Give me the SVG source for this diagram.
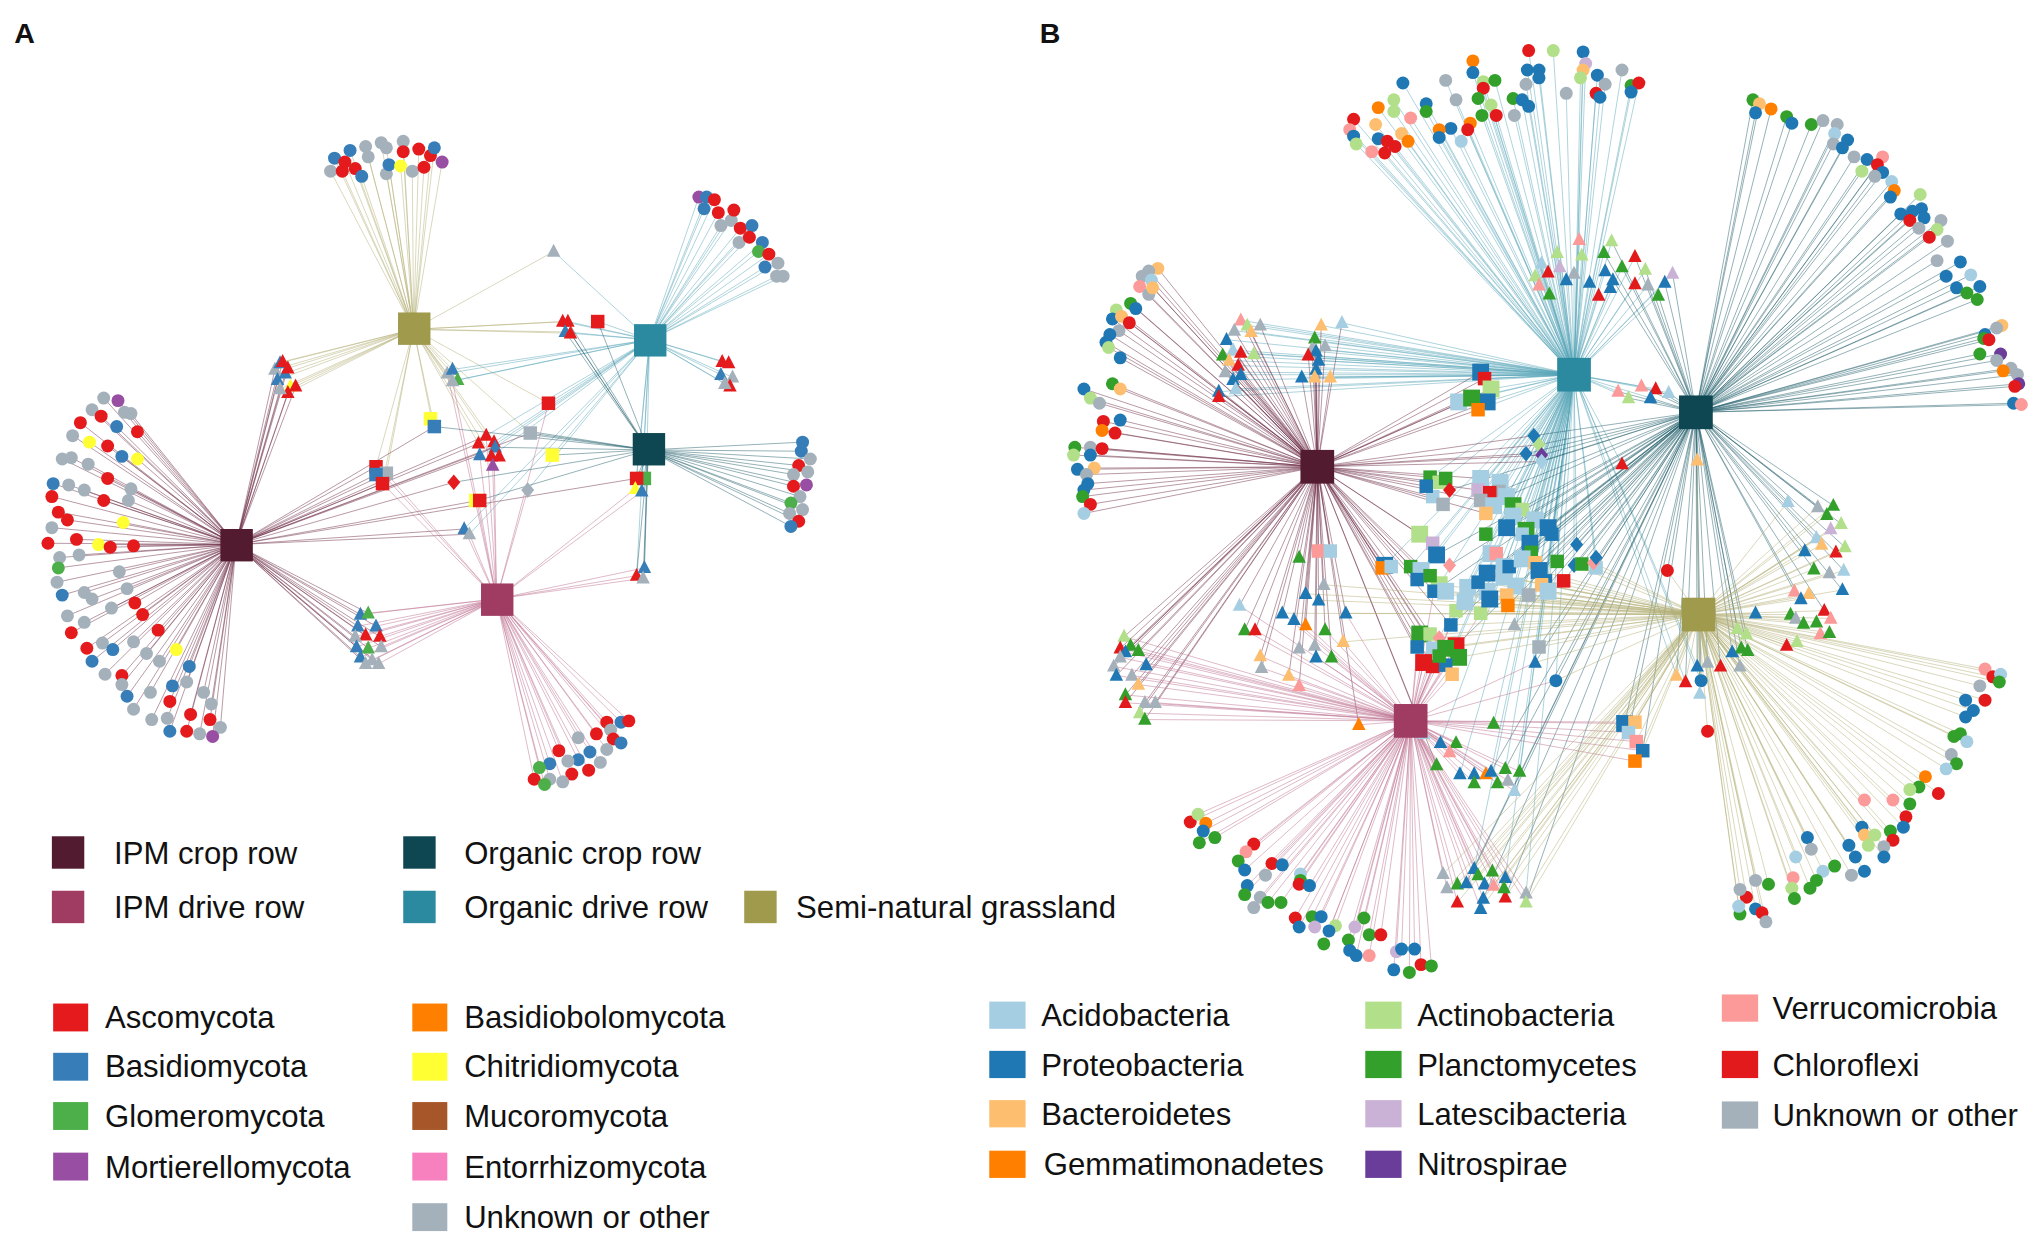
<svg xmlns="http://www.w3.org/2000/svg" width="2033" height="1237" viewBox="0 0 2033 1237">
<style>
text{font-family:"Liberation Sans",Arial,sans-serif;font-size:24px;fill:#111}
.lbl{font-size:22px;font-weight:bold}
.e{fill:none;stroke-width:.5;stroke-opacity:.75}
.eGR{stroke:#b3ae74}.eOD{stroke:#5aa6b9}.eOC{stroke:#235f6b}.eIC{stroke:#6e2d47}.eID{stroke:#bd6f8f}
circle{r:5px}
.r{fill:#e41a1c}.b{fill:#377eb8}.G{fill:#4daf4a}.p{fill:#984ea3}.y{fill:#ffff33}.g{fill:#a4b1bb}
.R{fill:#e31a1c}.B{fill:#1f78b4}.P{fill:#33a02c}.L{fill:#b2df8a}.A{fill:#a6cee3}.T{fill:#fdbf6f}.O{fill:#ff7f00}.V{fill:#fb9a99}.X{fill:#cab2d6}.N{fill:#6a3d9a}
</style>
<defs>
<path id="t" d="M0-6 5.2 4H-5.2Z"/>
<rect id="s" x="-5.2" y="-5.2" width="10.4" height="10.4"/>
<rect id="S" x="-6.5" y="-6.5" width="13" height="13"/>
<path id="d" d="M0-6 5 0 0 6-5 0Z"/>
</defs>
<rect width="2033" height="1237" fill="#fff"/>
<g transform="scale(1.29656)">
<text class="lbl" x="11" y="33">A</text>
<text class="lbl" x="802" y="33">B</text>

<g id="connectors">
<path class="e eGR" d="M319 254 255 132M319 254 258 122M319 254 264 132M319 254 266 125M319 254 270 116M319 254 274 130M319 254 279 136M319 254 282 113M319 254 284 121M319 254 294 110M319 254 298 114M319 254 298 134M319 254 300 127M319 254 309 128M319 254 311 109M319 254 311 117M319 254 318 132M319 254 323 115M319 254 327 129M319 254 332 120M319 254 335 114M319 254 341 125M319 254 212 285M319 254 216 280M319 254 218 279M319 254 220 288M319 254 222 284M319 254 214 293M319 254 224 298M319 254 228 298M319 254 222 303M319 254 216 300M319 254 434 248M319 254 438 248M319 254 436 256M319 254 440 257M319 254 427 194M319 254 345 288M319 254 349 285M319 254 353 293M319 254 349 294M319 254 290 360M319 254 295 373M319 254 298 365M319 254 333 324M319 254 375 336M319 254 381 341M319 254 379 352M319 254 369 342M319 254 423 311M319 254 409 334M319 254 335 329"/>
<path class="e eOD" d="M501 262 539 152M501 262 545 152M501 262 543 161M501 262 551 154M501 262 554 164M501 262 556 174M501 262 564 170M501 262 566 162M501 262 571 176M501 262 580 174M501 262 570 187M501 262 578 183M501 262 588 187M501 262 585 194M501 262 593 196M501 262 600 203M501 262 590 206M501 262 599 213M501 262 604 213M501 262 557 279M501 262 562 280M501 262 556 289M501 262 565 291M501 262 563 298M501 262 559 296M501 262 427 194M501 262 461 248M501 262 345 288M501 262 349 285M501 262 353 293M501 262 349 294M501 262 434 248M501 262 438 248M501 262 436 256M501 262 440 257M501 262 423 311M501 262 375 336M501 262 381 341M501 262 370 351M501 262 382 345M501 262 379 352M501 262 407 378M501 262 426 351M501 262 358 408M501 262 362 412M501 262 491 369M501 262 490 377M501 262 495 379M501 262 491 444M501 262 497 438"/>
<path class="e eOC" d="M500 347 619 341M500 347 618 348M500 347 625 354M500 347 616 359M500 347 623 364M500 347 612 366M500 347 612 375M500 347 622 374M500 347 617 383M500 347 610 388M500 347 619 393M500 347 609 396M500 347 616 402M500 347 610 406M500 347 434 248M500 347 438 248M500 347 436 256M500 347 440 257M500 347 461 248M500 347 409 334M500 347 408 335M500 347 410 333M500 347 335 329M500 347 350 372M500 347 369 386M500 347 491 369M500 347 490 377M500 347 495 379M500 347 491 444M500 347 497 438M500 347 496 446M500 347 382 345M500 347 426 351"/>
<path class="e eIC" d="M182 420 80 307M182 420 91 309M182 420 71 316M182 420 96 318M182 420 101 319M182 420 78 321M182 420 62 326M182 420 90 329M182 420 106 333M182 420 56 336M182 420 69 341M182 420 83 344M182 420 94 352M182 420 106 354M182 420 48 354M182 420 55 353M182 420 68 358M182 420 83 369M182 420 41 373M182 420 53 374M182 420 65 378M182 420 101 377M182 420 40 383M182 420 80 386M182 420 99 386M182 420 45 395M182 420 52 401M182 420 95 403M182 420 40 407M182 420 37 419M182 420 59 416M182 420 76 420M182 420 85 422M182 420 103 421M182 420 46 430M182 420 61 428M182 420 45 438M182 420 92 441M182 420 44 449M182 420 48 459M182 420 65 457M182 420 71 462M182 420 98 454M182 420 104 465M182 420 110 474M182 420 86 469M182 420 52 475M182 420 65 480M182 420 55 488M182 420 122 486M182 420 79 496M182 420 67 500M182 420 87 501M182 420 103 495M182 420 136 501M182 420 71 510M182 420 113 504M182 420 123 510M182 420 146 514M182 420 81 520M182 420 94 521M182 420 94 528M182 420 133 529M182 420 144 526M182 420 98 537M182 420 116 534M182 420 157 534M182 420 103 547M182 420 131 541M182 420 163 543M182 420 117 555M182 420 129 554M182 420 147 551M182 420 162 555M182 420 170 561M182 420 131 564M182 420 144 564M182 420 154 566M182 420 164 568M182 420 278 474M182 420 284 473M182 420 276 483M182 420 290 483M182 420 282 490M182 420 293 491M182 420 274 491M182 420 275 499M182 420 284 500M182 420 294 499M182 420 278 507M182 420 287 509M182 420 282 512M182 420 292 512M182 420 212 285M182 420 216 280M182 420 218 279M182 420 220 288M182 420 222 284M182 420 214 293M182 420 224 298M182 420 228 298M182 420 222 303M182 420 216 300M182 420 290 360M182 420 290 366M182 420 298 365M182 420 295 373M182 420 375 336M182 420 369 342M182 420 370 351M182 420 382 345M182 420 350 372M182 420 369 386M182 420 358 408M182 420 362 412M182 420 335 329M182 420 409 334M182 420 491 369"/>
<path class="e eID" d="M383 462 468 557M383 462 479 557M383 462 485 556M383 462 471 563M383 462 460 566M383 462 473 570M383 462 446 569M383 462 479 573M383 462 468 578M383 462 455 580M383 462 431 579M383 462 446 586M383 462 438 587M383 462 463 588M383 462 424 589M383 462 416 592M383 462 454 594M383 462 441 597M383 462 434 603M383 462 424 601M383 462 412 601M383 462 420 605M383 462 278 474M383 462 284 473M383 462 276 483M383 462 290 483M383 462 282 490M383 462 293 491M383 462 274 491M383 462 275 499M383 462 284 500M383 462 294 499M383 462 278 507M383 462 287 509M383 462 282 512M383 462 292 512M383 462 290 360M383 462 295 373M383 462 298 365M383 462 375 336M383 462 381 341M383 462 380 359M383 462 370 351M383 462 423 311M383 462 407 378M383 462 369 386M383 462 491 444M383 462 497 438M383 462 496 446M383 462 490 377M383 462 495 379M383 462 345 288M383 462 349 294M383 462 358 408M383 462 362 412"/>

<path class="e eOD" d="M1214 289 1179 39M1214 289 1198 39M1214 289 1221 40M1214 289 1136 47M1214 289 1223 49M1214 289 1136 56M1214 289 1178 54M1214 289 1187 54M1214 289 1221 54M1214 289 1251 54M1214 289 1082 64M1214 289 1115 62M1214 289 1144 63M1214 289 1153 62M1214 289 1177 65M1214 289 1187 60M1214 289 1219 60M1214 289 1232 58M1214 289 1238 65M1214 289 1258 66M1214 289 1264 64M1214 289 1144 68M1214 289 1208 72M1214 289 1231 72M1214 289 1234 75M1214 289 1258 71M1214 289 1075 77M1214 289 1063 83M1214 289 1075 86M1214 289 1100 80M1214 289 1123 77M1214 289 1140 76M1214 289 1150 81M1214 289 1167 76M1214 289 1174 77M1214 289 1179 82M1214 289 1100 86M1214 289 1143 89M1214 289 1154 89M1214 289 1168 89M1214 289 1044 92M1214 289 1088 91M1214 289 1061 96M1214 289 1041 100M1214 289 1134 95M1214 289 1119 99M1214 289 1110 100M1214 289 1132 100M1214 289 1044 105M1214 289 1081 103M1214 289 1063 107M1214 289 1046 111M1214 289 1070 109M1214 289 1076 113M1214 289 1086 109M1214 289 1058 117M1214 289 1068 118M1214 289 1110 106M1214 289 1127 109M1214 289 957 247M1214 289 952 255M1214 289 962 251M1214 289 972 251M1214 289 965 256M1214 289 946 262M1214 289 951 270M1214 289 943 274M1214 289 957 272M1214 289 967 273M1214 289 948 278M1214 289 955 282M1214 289 945 287M1214 289 957 289M1214 289 951 293M1214 289 940 302M1214 289 953 300M1214 289 940 306M1214 289 1019 251M1214 289 1035 249M1214 289 1014 261M1214 289 1012 269M1214 289 1022 267M1214 289 1015 271M1214 289 1009 274M1214 289 1017 278M1214 289 1015 285M1214 289 1004 291M1214 289 1014 291M1214 289 1026 291M1214 289 1218 185M1214 289 1243 186M1214 289 1201 195M1214 289 1220 197M1214 289 1237 195M1214 289 1261 198M1214 289 1189 203M1214 289 1203 206M1214 289 1251 206M1214 289 1269 208M1214 289 1194 210M1214 289 1214 211M1214 289 1238 209M1214 289 1290 211M1214 289 1184 213M1214 289 1208 216M1214 289 1226 218M1214 289 1244 216M1214 289 1261 219M1214 289 1271 220M1214 289 1284 218M1214 289 1187 220M1214 289 1195 227M1214 289 1233 228M1214 289 1242 222M1214 289 1279 228M1214 289 1248 302M1214 289 1266 298M1214 289 1277 300M1214 289 1287 303M1214 289 1256 307M1214 289 1273 307M1214 289 1142 287M1214 289 1145 292M1214 289 1135 307M1214 289 1125 310M1214 289 1147 310M1214 289 1150 300M1214 289 1140 316M1214 289 1183 336M1214 289 1187 343M1214 289 1177 350M1214 289 1189 351M1214 289 1189 356M1214 289 1103 368M1214 289 1115 369M1214 289 1142 369M1214 289 1157 372M1214 289 1140 378M1214 289 1149 380M1214 289 1162 383M1214 289 1152 390M1214 289 1167 390M1214 289 1174 393M1214 289 1184 401M1214 289 1194 407M1214 289 1197 412M1214 289 1177 409M1214 289 1146 412M1214 289 1174 412M1214 289 1180 419M1214 289 1181 426M1214 289 1174 431M1214 289 1187 440M1214 289 1192 448M1214 289 1194 456M1214 289 1201 433M1214 289 1216 420M1214 289 1214 436M1214 289 1231 430M1214 289 1231 438M1214 289 1150 427M1214 289 1160 437M1214 289 1164 437M1214 289 1169 452M1214 289 1162 459M1214 289 1179 459M1214 289 1110 451M1214 289 1123 471M1214 289 1142 473M1214 289 1119 482M1214 289 1110 492M1214 289 1123 498M1214 289 1115 513M1214 289 1093 447M1214 289 1096 440M1214 289 1068 436M1214 289 1088 437M1214 289 1105 419M1214 289 1152 558M1214 289 1111 573M1214 289 1126 597M1214 289 1150 595M1214 289 1161 593M1214 289 1172 595M1214 289 1168 610M1214 289 1137 670M1214 289 1161 677M1214 289 1177 689M1214 289 1200 525M1214 289 1168 482M1214 289 1187 499M1214 289 1184 511M1214 289 1251 358M1214 289 1309 514M1214 289 1312 525M1214 289 1300 526M1214 289 1293 521"/>
<path class="e eOC" d="M1308 318 1352 77M1308 318 1357 80M1308 318 1354 87M1308 318 1366 84M1308 318 1378 90M1308 318 1382 95M1308 318 1397 96M1308 318 1406 93M1308 318 1417 96M1308 318 1415 103M1308 318 1425 108M1308 318 1414 111M1308 318 1421 114M1308 318 1430 121M1308 318 1440 123M1308 318 1452 121M1308 318 1448 127M1308 318 1436 132M1308 318 1452 133M1308 318 1446 136M1308 318 1459 140M1308 318 1461 147M1308 318 1458 152M1308 318 1481 150M1308 318 1466 165M1308 318 1475 163M1308 318 1482 161M1308 318 1473 170M1308 318 1484 168M1308 318 1497 170M1308 318 1480 176M1308 318 1494 177M1308 318 1488 183M1308 318 1502 186M1308 318 1494 201M1308 318 1512 202M1308 318 1501 213M1308 318 1520 212M1308 318 1509 222M1308 318 1517 226M1308 318 1527 221M1308 318 1525 231M1308 318 1544 251M1308 318 1540 253M1308 318 1531 258M1308 318 1530 261M1308 318 1534 262M1308 318 1527 273M1308 318 1543 273M1308 318 1540 278M1308 318 1551 284M1308 318 1545 286M1308 318 1556 289M1308 318 1557 296M1308 318 1554 298M1308 318 1553 311M1308 318 1559 312M1308 318 1261 198M1308 318 1269 208M1308 318 1290 211M1308 318 1284 218M1308 318 1271 220M1308 318 1279 228M1308 318 1251 206M1308 318 1244 216M1308 318 1237 195M1308 318 1243 186M1308 318 1248 302M1308 318 1266 298M1308 318 1277 300M1308 318 1287 303M1308 318 1256 307M1308 318 1273 307M1308 318 1183 336M1308 318 1187 343M1308 318 1177 350M1308 318 1189 351M1308 318 1189 356M1308 318 1118 378M1308 318 1156 379M1308 318 1162 383M1308 318 1167 398M1308 318 1162 407M1308 318 1184 401M1308 318 1194 407M1308 318 1197 412M1308 318 1177 409M1308 318 1180 419M1308 318 1184 434M1308 318 1187 440M1308 318 1189 451M1308 318 1206 448M1308 318 1201 433M1308 318 1216 420M1308 318 1214 436M1308 318 1220 435M1308 318 1229 434M1308 318 1231 438M1308 318 1174 431M1308 318 1164 437M1308 318 1147 442M1308 318 1169 452M1308 318 1163 467M1308 318 1130 464M1308 318 1140 449M1308 318 1108 428M1308 318 1118 436M1308 318 1106 456M1308 318 1119 482M1308 318 1123 498M1308 318 1379 387M1308 318 1402 391M1308 318 1414 390M1308 318 1409 397M1308 318 1420 404M1308 318 1401 415M1308 318 1392 425M1308 318 1416 426M1308 318 1423 422M1308 318 1399 439M1308 318 1422 440M1308 318 1389 462M1308 318 1421 455M1308 318 1384 456M1308 318 1407 471M1308 318 1340 485M1308 318 1347 489M1308 318 1343 500M1308 318 1336 503M1308 318 1348 502M1308 318 1317 511M1308 318 1309 514M1308 318 1327 514M1308 318 1342 514M1308 318 1293 521M1308 318 1300 526M1308 318 1312 525M1308 318 1311 535M1308 318 1253 558M1308 318 1256 565M1308 318 1267 579M1308 318 1137 670M1308 318 1144 693M1308 318 1161 692M1308 318 1177 696M1308 318 1131 681M1308 318 1251 358M1308 318 1309 355M1308 318 1286 440M1308 318 1200 525M1308 318 1168 482M1308 318 1187 499M1308 318 1184 511M1308 318 1150 595M1308 318 1168 610M1308 318 1161 593"/>
<path class="e eIC" d="M1016 360 893 207M1016 360 886 209M1016 360 881 213M1016 360 888 216M1016 360 879 221M1016 360 886 227M1016 360 889 222M1016 360 872 234M1016 360 876 238M1016 360 861 239M1016 360 858 246M1016 360 865 244M1016 360 871 249M1016 360 863 255M1016 360 856 258M1016 360 853 264M1016 360 855 268M1016 360 864 276M1016 360 836 300M1016 360 858 296M1016 360 864 300M1016 360 841 307M1016 360 848 311M1016 360 851 325M1016 360 864 324M1016 360 850 332M1016 360 860 334M1016 360 829 345M1016 360 841 345M1016 360 850 346M1016 360 828 351M1016 360 841 351M1016 360 831 362M1016 360 844 361M1016 360 838 366M1016 360 839 373M1016 360 836 378M1016 360 835 383M1016 360 841 389M1016 360 836 396M1016 360 957 247M1016 360 952 255M1016 360 962 251M1016 360 972 251M1016 360 965 256M1016 360 946 262M1016 360 951 270M1016 360 943 274M1016 360 957 272M1016 360 967 273M1016 360 948 278M1016 360 955 282M1016 360 945 287M1016 360 957 289M1016 360 951 293M1016 360 940 302M1016 360 953 300M1016 360 940 306M1016 360 1019 251M1016 360 1035 249M1016 360 1014 261M1016 360 1012 269M1016 360 1022 267M1016 360 1015 271M1016 360 1009 274M1016 360 1017 278M1016 360 1015 285M1016 360 1004 291M1016 360 1014 291M1016 360 1026 291M1016 360 1142 287M1016 360 1145 292M1016 360 1135 307M1016 360 1125 310M1016 360 1147 310M1016 360 1150 300M1016 360 1140 316M1016 360 1183 336M1016 360 1187 343M1016 360 1177 350M1016 360 1189 351M1016 360 1189 356M1016 360 1103 368M1016 360 1110 372M1016 360 1100 375M1016 360 1105 383M1016 360 1113 389M1016 360 1142 369M1016 360 1140 378M1016 360 1142 386M1016 360 1146 396M1016 360 1095 412M1016 360 1105 419M1016 360 1068 436M1016 360 1066 438M1016 360 1073 437M1016 360 1088 437M1016 360 1096 440M1016 360 1093 447M1016 360 1103 444M1016 360 1106 456M1016 360 1119 482M1016 360 1095 489M1016 360 1103 489M1016 360 1093 499M1016 360 1098 511M1016 360 1105 514M1016 360 1120 520M1016 360 1110 506M1016 360 1002 430M1016 360 1017 425M1016 360 1026 425M1016 360 1007 458M1016 360 1021 451M1016 360 1017 463M1016 360 1038 473M1016 360 956 467M1016 360 989 473M1016 360 998 478M1016 360 960 486M1016 360 968 486M1016 360 1007 482M1016 360 1022 486M1016 360 1014 498M1016 360 1036 495M1016 360 1015 507M1016 360 1027 507M1016 360 1002 500M1016 360 972 506M1016 360 973 515M1016 360 994 521M1016 360 1002 529M1016 360 867 491M1016 360 864 500M1016 360 872 498M1016 360 868 503M1016 360 864 507M1016 360 878 502M1016 360 884 513M1016 360 859 514M1016 360 861 521M1016 360 873 521M1016 360 878 528M1016 360 868 536M1016 360 868 542M1016 360 883 542M1016 360 891 542M1016 360 879 550M1016 360 883 555M1016 360 1048 559M1016 360 1098 566M1016 360 1108 590"/>
<path class="e eID" d="M1088 556 918 634M1088 556 924 628M1088 556 930 635M1088 556 928 641M1088 556 925 650M1088 556 937 646M1088 556 967 651M1088 556 961 657M1088 556 955 664M1088 556 960 671M1088 556 981 666M1088 556 989 667M1088 556 976 675M1088 556 1003 674M1088 556 1002 682M1088 556 1003 679M1088 556 1010 683M1088 556 962 683M1088 556 960 690M1088 556 972 692M1088 556 978 696M1088 556 988 696M1088 556 967 700M1088 556 999 708M1088 556 1012 707M1088 556 1019 707M1088 556 1002 715M1088 556 1014 715M1088 556 1030 714M1088 556 1025 718M1088 556 1021 728M1088 556 1040 725M1088 556 1052 708M1088 556 1045 715M1088 556 1056 721M1088 556 1065 721M1088 556 1041 733M1088 556 1046 737M1088 556 1056 737M1088 556 1077 734M1088 556 1081 732M1088 556 1091 732M1088 556 1087 750M1088 556 1075 748M1088 556 1096 744M1088 556 1104 745M1088 556 1113 674M1088 556 1124 682M1088 556 1131 681M1088 556 1137 670M1088 556 1140 675M1088 556 1151 672M1088 556 1161 677M1088 556 1145 682M1088 556 1116 685M1088 556 1124 696M1088 556 1144 693M1088 556 1161 692M1088 556 1142 701M1088 556 1152 683M1088 556 1177 689M1088 556 1177 696M1088 556 1160 685M1088 556 867 491M1088 556 864 500M1088 556 872 498M1088 556 868 503M1088 556 864 507M1088 556 878 502M1088 556 884 513M1088 556 859 514M1088 556 861 521M1088 556 873 521M1088 556 878 528M1088 556 868 536M1088 556 868 542M1088 556 883 542M1088 556 891 542M1088 556 879 550M1088 556 883 555M1088 556 956 467M1088 556 989 473M1088 556 998 478M1088 556 960 486M1088 556 968 486M1088 556 1007 482M1088 556 1022 486M1088 556 1014 498M1088 556 1036 495M1088 556 1015 507M1088 556 1027 507M1088 556 972 506M1088 556 973 515M1088 556 994 521M1088 556 1002 529M1088 556 1038 473M1088 556 1119 482M1088 556 1095 489M1088 556 1103 489M1088 556 1110 492M1088 556 1123 498M1088 556 1105 500M1088 556 1115 500M1088 556 1093 499M1088 556 1125 507M1088 556 1098 511M1088 556 1105 514M1088 556 1115 513M1088 556 1120 520M1088 556 1110 506M1088 556 1123 471M1088 556 1142 473M1088 556 1106 456M1088 556 1253 558M1088 556 1256 565M1088 556 1262 572M1088 556 1267 579M1088 556 1261 587M1088 556 1261 557M1088 556 1048 559M1088 556 1152 558M1088 556 1098 566M1088 556 1111 573M1088 556 1123 573M1088 556 1118 580M1088 556 1108 590M1088 556 1126 597M1088 556 1137 597M1088 556 1137 604M1088 556 1146 597M1088 556 1150 595M1088 556 1161 593M1088 556 1172 595M1088 556 1155 604M1088 556 1168 610M1088 556 1163 602M1088 556 1184 511M1088 556 1200 525"/>
<path class="e eGR" d="M1310 474 1531 516M1310 474 1537 522M1310 474 1543 520M1310 474 1542 526M1310 474 1527 529M1310 474 1516 540M1310 474 1531 540M1310 474 1522 548M1310 474 1516 553M1310 474 1512 566M1310 474 1507 568M1310 474 1517 572M1310 474 1505 582M1310 474 1509 589M1310 474 1501 593M1310 474 1485 599M1310 474 1480 607M1310 474 1473 609M1310 474 1495 612M1310 474 1438 617M1310 474 1460 617M1310 474 1473 620M1310 474 1470 630M1310 474 1468 638M1310 474 1458 641M1310 474 1460 648M1310 474 1436 638M1310 474 1438 644M1310 474 1446 644M1310 474 1426 652M1310 474 1441 652M1310 474 1453 653M1310 474 1431 661M1310 474 1453 661M1310 474 1406 672M1310 474 1415 668M1310 474 1438 672M1310 474 1428 675M1310 474 1394 646M1310 474 1385 661M1310 474 1397 655M1310 474 1383 677M1310 474 1382 685M1310 474 1396 685M1310 474 1401 679M1310 474 1384 693M1310 474 1364 682M1310 474 1354 679M1310 474 1347 692M1310 474 1342 686M1310 474 1342 705M1310 474 1354 701M1310 474 1359 704M1310 474 1362 711M1310 474 1341 699M1310 474 1379 387M1310 474 1402 391M1310 474 1414 390M1310 474 1409 397M1310 474 1420 404M1310 474 1412 408M1310 474 1401 415M1310 474 1405 420M1310 474 1392 425M1310 474 1416 426M1310 474 1423 422M1310 474 1399 439M1310 474 1422 440M1310 474 1411 442M1310 474 1384 456M1310 474 1395 458M1310 474 1389 462M1310 474 1421 455M1310 474 1381 474M1310 474 1385 477M1310 474 1407 471M1310 474 1412 477M1310 474 1354 473M1310 474 1391 481M1310 474 1401 480M1310 474 1386 495M1310 474 1378 498M1310 474 1404 489M1310 474 1411 488M1310 474 1340 485M1310 474 1347 489M1310 474 1343 500M1310 474 1336 503M1310 474 1348 502M1310 474 1317 511M1310 474 1309 514M1310 474 1327 514M1310 474 1342 514M1310 474 1293 521M1310 474 1300 526M1310 474 1312 525M1310 474 1311 535M1310 474 1113 674M1310 474 1124 682M1310 474 1131 681M1310 474 1137 670M1310 474 1140 675M1310 474 1151 672M1310 474 1161 677M1310 474 1145 682M1310 474 1116 685M1310 474 1124 696M1310 474 1144 693M1310 474 1161 692M1310 474 1142 701M1310 474 1152 683M1310 474 1177 689M1310 474 1177 696M1310 474 1160 685M1310 474 1253 558M1310 474 1256 565M1310 474 1262 572M1310 474 1267 579M1310 474 1261 587M1310 474 1261 557M1310 474 1142 473M1310 474 1123 471M1310 474 1130 464M1310 474 1149 462M1310 474 1162 459M1310 474 1163 467M1310 474 1179 459M1310 474 1194 456M1310 474 1189 451M1310 474 1192 448M1310 474 1206 448M1310 474 1169 452M1310 474 1160 445M1310 474 1147 442M1310 474 1187 440M1310 474 1231 438M1310 474 1214 436M1310 474 1229 434M1310 474 1110 451M1310 474 1106 456M1310 474 1115 456M1310 474 1132 453M1310 474 1140 449M1310 474 1119 482M1310 474 1123 498M1310 474 1125 507M1310 474 1115 500M1310 474 1110 492M1310 474 1038 473M1310 474 1021 451M1310 474 1007 458M1310 474 1017 463M1310 474 1036 495M1310 474 989 473M1310 474 1286 440M1310 474 1317 564M1310 474 1309 355M1310 474 1200 525M1310 474 1168 482M1310 474 1187 499M1310 474 1184 511"/>
</g>

<g id="a-leaves-top">
<circle cx="255" cy="132" class="g"/><circle cx="258" cy="122" class="b"/><circle cx="264" cy="132" class="r"/><circle cx="266" cy="125" class="r"/><circle cx="270" cy="116" class="b"/><circle cx="274" cy="130" class="r"/><circle cx="279" cy="136" class="b"/><circle cx="282" cy="113" class="g"/><circle cx="284" cy="121" class="g"/><circle cx="294" cy="110" class="g"/><circle cx="298" cy="114" class="g"/><circle cx="298" cy="134" class="g"/><circle cx="300" cy="127" class="b"/><circle cx="309" cy="128" class="y"/><circle cx="311" cy="109" class="g"/><circle cx="311" cy="117" class="r"/><circle cx="318" cy="132" class="g"/><circle cx="323" cy="115" class="r"/><circle cx="327" cy="129" class="r"/><circle cx="332" cy="120" class="r"/><circle cx="335" cy="114" class="b"/><circle cx="341" cy="125" class="p"/>
</g>
<g id="a-leaves-topright">
<circle cx="539" cy="152" class="p"/><circle cx="545" cy="152" class="b"/><circle cx="543" cy="161" class="b"/><circle cx="551" cy="154" class="r"/><circle cx="554" cy="164" class="r"/><circle cx="556" cy="174" class="g"/><circle cx="564" cy="170" class="g"/><circle cx="566" cy="162" class="r"/><circle cx="571" cy="176" class="r"/><circle cx="580" cy="174" class="b"/><circle cx="570" cy="187" class="g"/><circle cx="578" cy="183" class="r"/><circle cx="588" cy="187" class="b"/><circle cx="585" cy="194" class="G"/><circle cx="593" cy="196" class="r"/><circle cx="600" cy="203" class="g"/><circle cx="590" cy="206" class="b"/><circle cx="599" cy="213" class="g"/><circle cx="604" cy="213" class="g"/>
</g>
<g id="a-leaves-left">
<circle cx="80" cy="307" class="g"/><circle cx="91" cy="309" class="p"/><circle cx="71" cy="316" class="g"/><circle cx="96" cy="318" class="g"/><circle cx="101" cy="319" class="g"/><circle cx="78" cy="321" class="r"/><circle cx="62" cy="326" class="r"/><circle cx="90" cy="329" class="b"/><circle cx="106" cy="333" class="r"/><circle cx="56" cy="336" class="g"/><circle cx="69" cy="341" class="y"/><circle cx="83" cy="344" class="r"/><circle cx="94" cy="352" class="b"/><circle cx="106" cy="354" class="y"/><circle cx="48" cy="354" class="g"/><circle cx="55" cy="353" class="g"/><circle cx="68" cy="358" class="g"/><circle cx="83" cy="369" class="r"/><circle cx="41" cy="373" class="b"/><circle cx="53" cy="374" class="g"/><circle cx="65" cy="378" class="g"/><circle cx="101" cy="377" class="g"/><circle cx="40" cy="383" class="r"/><circle cx="80" cy="386" class="r"/><circle cx="99" cy="386" class="g"/><circle cx="45" cy="395" class="r"/><circle cx="52" cy="401" class="r"/><circle cx="95" cy="403" class="y"/><circle cx="40" cy="407" class="g"/><circle cx="37" cy="419" class="r"/><circle cx="59" cy="416" class="r"/><circle cx="76" cy="420" class="y"/><circle cx="85" cy="422" class="r"/><circle cx="103" cy="421" class="r"/><circle cx="46" cy="430" class="g"/><circle cx="61" cy="428" class="g"/><circle cx="45" cy="438" class="G"/><circle cx="92" cy="441" class="g"/><circle cx="44" cy="449" class="g"/><circle cx="48" cy="459" class="b"/><circle cx="65" cy="457" class="g"/><circle cx="71" cy="462" class="g"/><circle cx="98" cy="454" class="g"/><circle cx="104" cy="465" class="r"/><circle cx="110" cy="474" class="r"/><circle cx="86" cy="469" class="g"/><circle cx="52" cy="475" class="g"/><circle cx="65" cy="480" class="g"/><circle cx="55" cy="488" class="r"/><circle cx="122" cy="486" class="r"/><circle cx="79" cy="496" class="g"/><circle cx="67" cy="500" class="r"/><circle cx="87" cy="501" class="b"/><circle cx="103" cy="495" class="g"/><circle cx="136" cy="501" class="y"/><circle cx="71" cy="510" class="b"/><circle cx="113" cy="504" class="g"/><circle cx="123" cy="510" class="g"/><circle cx="146" cy="514" class="b"/><circle cx="81" cy="520" class="g"/><circle cx="94" cy="521" class="r"/><circle cx="94" cy="528" class="g"/><circle cx="133" cy="529" class="b"/><circle cx="144" cy="526" class="g"/><circle cx="98" cy="537" class="b"/><circle cx="116" cy="534" class="g"/><circle cx="157" cy="534" class="g"/><circle cx="103" cy="547" class="g"/><circle cx="131" cy="541" class="r"/><circle cx="163" cy="543" class="g"/><circle cx="117" cy="555" class="g"/><circle cx="129" cy="554" class="g"/><circle cx="147" cy="551" class="r"/><circle cx="162" cy="555" class="r"/><circle cx="170" cy="561" class="g"/><circle cx="131" cy="564" class="b"/><circle cx="144" cy="564" class="r"/><circle cx="154" cy="566" class="g"/><circle cx="164" cy="568" class="p"/>
</g>
<g id="a-leaves-bottom">
<circle cx="468" cy="557" class="r"/><circle cx="479" cy="557" class="b"/><circle cx="485" cy="556" class="r"/><circle cx="471" cy="563" class="g"/><circle cx="460" cy="566" class="r"/><circle cx="473" cy="570" class="r"/><circle cx="446" cy="569" class="g"/><circle cx="479" cy="573" class="b"/><circle cx="468" cy="578" class="g"/><circle cx="455" cy="580" class="b"/><circle cx="431" cy="579" class="r"/><circle cx="446" cy="586" class="b"/><circle cx="438" cy="587" class="g"/><circle cx="463" cy="588" class="g"/><circle cx="424" cy="589" class="b"/><circle cx="416" cy="592" class="G"/><circle cx="454" cy="594" class="r"/><circle cx="441" cy="597" class="r"/><circle cx="434" cy="603" class="g"/><circle cx="424" cy="601" class="g"/><circle cx="412" cy="601" class="r"/><circle cx="420" cy="605" class="G"/>
</g>
<g id="a-leaves-right">
<circle cx="619" cy="341" class="b"/><circle cx="618" cy="348" class="b"/><circle cx="625" cy="354" class="g"/><circle cx="616" cy="359" class="r"/><circle cx="623" cy="364" class="g"/><circle cx="612" cy="366" class="g"/><circle cx="612" cy="375" class="r"/><circle cx="622" cy="374" class="p"/><circle cx="617" cy="383" class="g"/><circle cx="610" cy="388" class="G"/><circle cx="619" cy="393" class="g"/><circle cx="609" cy="396" class="g"/><circle cx="616" cy="402" class="r"/><circle cx="610" cy="406" class="b"/>
</g>
<g id="a-leaves-shared">
<use href="#t" x="427" y="194" class="g"/>
<use href="#t" x="434" y="248" class="r"/><use href="#t" x="438" y="248" class="r"/><use href="#t" x="436" y="256" class="b"/><use href="#t" x="440" y="257" class="r"/><use href="#s" x="461" y="248" class="r"/>
<use href="#t" x="212" y="285" class="g"/><use href="#t" x="216" y="280" class="b"/><use href="#t" x="218" y="279" class="r"/><use href="#t" x="220" y="288" class="b"/><use href="#t" x="222" y="284" class="r"/><use href="#t" x="214" y="293" class="b"/><use href="#t" x="224" y="298" class="y"/><use href="#t" x="228" y="298" class="r"/><use href="#t" x="222" y="303" class="r"/><use href="#t" x="216" y="300" class="g"/>
<use href="#t" x="345" y="288" class="g"/><use href="#t" x="349" y="285" class="b"/><use href="#t" x="353" y="293" class="G"/><use href="#t" x="349" y="294" class="g"/>
<use href="#t" x="557" y="279" class="r"/><use href="#t" x="562" y="280" class="r"/><use href="#t" x="556" y="289" class="b"/><use href="#t" x="565" y="291" class="g"/><use href="#t" x="563" y="298" class="r"/><use href="#t" x="559" y="296" class="g"/>
<use href="#s" x="423" y="311" class="r"/>
<use href="#s" x="332" y="323" class="y"/><use href="#s" x="335" y="329" class="b"/>
<use href="#s" x="409" y="334" class="g"/>
<use href="#t" x="375" y="336" class="r"/><use href="#t" x="369" y="342" class="r"/><use href="#t" x="381" y="341" class="r"/><use href="#t" x="370" y="351" class="b"/><use href="#t" x="382" y="345" class="b"/><use href="#t" x="379" y="352" class="r"/><use href="#t" x="385" y="352" class="r"/><use href="#t" x="380" y="359" class="p"/>
<use href="#s" x="426" y="351" class="y"/>
<use href="#s" x="290" y="360" class="r"/><use href="#s" x="298" y="365" class="g"/><use href="#s" x="290" y="366" class="b"/><use href="#s" x="295" y="373" class="r"/>
<use href="#d" x="350" y="372" class="r"/><use href="#d" x="407" y="378" class="g"/>
<use href="#s" x="367" y="386" class="y"/><use href="#s" x="370" y="386" class="r"/>
<use href="#t" x="358" y="408" class="b"/><use href="#t" x="362" y="412" class="g"/>
<use href="#s" x="497" y="369" class="G"/><use href="#s" x="491" y="369" class="r"/><use href="#t" x="490" y="377" class="y"/><use href="#t" x="495" y="379" class="b"/>
<use href="#t" x="491" y="444" class="r"/><use href="#t" x="497" y="438" class="b"/><use href="#t" x="496" y="446" class="g"/>
<use href="#t" x="278" y="474" class="b"/><use href="#t" x="284" y="473" class="G"/><use href="#t" x="276" y="483" class="b"/><use href="#t" x="290" y="483" class="b"/><use href="#t" x="282" y="490" class="r"/><use href="#t" x="293" y="491" class="r"/><use href="#t" x="274" y="491" class="g"/><use href="#t" x="275" y="499" class="b"/><use href="#t" x="284" y="500" class="G"/><use href="#t" x="294" y="499" class="g"/><use href="#t" x="278" y="507" class="b"/><use href="#t" x="287" y="509" class="g"/><use href="#t" x="282" y="512" class="g"/><use href="#t" x="292" y="512" class="g"/>
</g>

<g id="b-leaves-top">
<circle cx="1179" cy="39" class="R"/><circle cx="1198" cy="39" class="L"/><circle cx="1221" cy="40" class="B"/><circle cx="1136" cy="47" class="O"/><circle cx="1223" cy="49" class="X"/><circle cx="1136" cy="56" class="B"/><circle cx="1178" cy="54" class="B"/><circle cx="1187" cy="54" class="B"/><circle cx="1221" cy="54" class="T"/><circle cx="1251" cy="54" class="g"/><circle cx="1082" cy="64" class="B"/><circle cx="1115" cy="62" class="g"/><circle cx="1144" cy="63" class="L"/><circle cx="1153" cy="62" class="P"/><circle cx="1177" cy="65" class="g"/><circle cx="1187" cy="60" class="B"/><circle cx="1219" cy="60" class="L"/><circle cx="1232" cy="58" class="B"/><circle cx="1238" cy="65" class="g"/><circle cx="1258" cy="66" class="P"/><circle cx="1264" cy="64" class="R"/><circle cx="1144" cy="68" class="R"/><circle cx="1208" cy="72" class="g"/><circle cx="1231" cy="72" class="R"/><circle cx="1234" cy="75" class="B"/><circle cx="1258" cy="71" class="B"/><circle cx="1075" cy="77" class="L"/><circle cx="1063" cy="83" class="O"/><circle cx="1075" cy="86" class="L"/><circle cx="1100" cy="80" class="B"/><circle cx="1123" cy="77" class="g"/><circle cx="1140" cy="76" class="P"/><circle cx="1150" cy="81" class="L"/><circle cx="1167" cy="76" class="P"/><circle cx="1174" cy="77" class="B"/><circle cx="1179" cy="82" class="B"/><circle cx="1100" cy="86" class="P"/><circle cx="1143" cy="89" class="P"/><circle cx="1154" cy="89" class="R"/><circle cx="1168" cy="89" class="g"/><circle cx="1044" cy="92" class="R"/><circle cx="1088" cy="91" class="V"/><circle cx="1061" cy="96" class="T"/><circle cx="1041" cy="100" class="V"/><circle cx="1134" cy="95" class="O"/><circle cx="1119" cy="99" class="B"/><circle cx="1110" cy="100" class="O"/><circle cx="1132" cy="100" class="R"/><circle cx="1044" cy="105" class="B"/><circle cx="1081" cy="103" class="T"/><circle cx="1063" cy="107" class="B"/><circle cx="1046" cy="111" class="L"/><circle cx="1070" cy="109" class="R"/><circle cx="1076" cy="113" class="R"/><circle cx="1086" cy="109" class="O"/><circle cx="1058" cy="117" class="V"/><circle cx="1068" cy="118" class="R"/><circle cx="1110" cy="106" class="B"/><circle cx="1127" cy="109" class="A"/>
</g>
<g id="b-leaves-topright">
<circle cx="1352" cy="77" class="P"/><circle cx="1357" cy="80" class="T"/><circle cx="1354" cy="87" class="B"/><circle cx="1366" cy="84" class="O"/><circle cx="1378" cy="90" class="P"/><circle cx="1382" cy="95" class="B"/><circle cx="1397" cy="96" class="P"/><circle cx="1406" cy="93" class="g"/><circle cx="1417" cy="96" class="g"/><circle cx="1415" cy="103" class="A"/><circle cx="1425" cy="108" class="B"/><circle cx="1414" cy="111" class="g"/><circle cx="1421" cy="114" class="B"/><circle cx="1430" cy="121" class="g"/><circle cx="1440" cy="123" class="B"/><circle cx="1452" cy="121" class="V"/><circle cx="1448" cy="127" class="R"/><circle cx="1436" cy="132" class="L"/><circle cx="1452" cy="133" class="B"/><circle cx="1446" cy="136" class="g"/><circle cx="1459" cy="140" class="A"/><circle cx="1461" cy="147" class="O"/><circle cx="1458" cy="152" class="B"/><circle cx="1481" cy="150" class="L"/><circle cx="1466" cy="165" class="B"/><circle cx="1475" cy="163" class="B"/><circle cx="1482" cy="161" class="B"/><circle cx="1473" cy="170" class="R"/><circle cx="1484" cy="168" class="B"/><circle cx="1497" cy="170" class="g"/><circle cx="1480" cy="176" class="g"/><circle cx="1494" cy="177" class="L"/><circle cx="1488" cy="183" class="R"/><circle cx="1502" cy="186" class="g"/><circle cx="1494" cy="201" class="g"/><circle cx="1512" cy="202" class="B"/><circle cx="1501" cy="213" class="B"/><circle cx="1520" cy="212" class="A"/><circle cx="1509" cy="222" class="B"/><circle cx="1517" cy="226" class="P"/><circle cx="1527" cy="221" class="B"/><circle cx="1525" cy="231" class="P"/>
<circle cx="1544" cy="251" class="T"/><circle cx="1540" cy="253" class="g"/><circle cx="1531" cy="258" class="B"/><circle cx="1530" cy="261" class="P"/><circle cx="1534" cy="262" class="R"/><circle cx="1527" cy="273" class="P"/><circle cx="1543" cy="273" class="N"/><circle cx="1540" cy="278" class="g"/><circle cx="1551" cy="284" class="g"/><circle cx="1545" cy="286" class="O"/><circle cx="1556" cy="289" class="g"/><circle cx="1557" cy="296" class="N"/><circle cx="1554" cy="298" class="R"/><circle cx="1553" cy="311" class="B"/><circle cx="1559" cy="312" class="V"/>
</g>
<g id="b-leaves-left">
<circle cx="893" cy="207" class="T"/><circle cx="886" cy="209" class="g"/><circle cx="881" cy="213" class="g"/><circle cx="888" cy="216" class="A"/><circle cx="879" cy="221" class="V"/><circle cx="886" cy="227" class="g"/><circle cx="889" cy="222" class="T"/><circle cx="872" cy="234" class="P"/><circle cx="876" cy="238" class="B"/><circle cx="861" cy="239" class="L"/><circle cx="858" cy="246" class="B"/><circle cx="865" cy="244" class="T"/><circle cx="871" cy="249" class="R"/><circle cx="863" cy="255" class="g"/><circle cx="856" cy="258" class="B"/><circle cx="853" cy="264" class="B"/><circle cx="855" cy="268" class="L"/><circle cx="864" cy="276" class="B"/>
<circle cx="836" cy="300" class="B"/><circle cx="858" cy="296" class="P"/><circle cx="864" cy="300" class="T"/><circle cx="841" cy="307" class="L"/><circle cx="848" cy="311" class="g"/><circle cx="851" cy="325" class="R"/><circle cx="864" cy="324" class="B"/><circle cx="850" cy="332" class="O"/><circle cx="860" cy="334" class="R"/><circle cx="829" cy="345" class="P"/><circle cx="841" cy="345" class="g"/><circle cx="850" cy="346" class="R"/><circle cx="828" cy="351" class="L"/><circle cx="841" cy="351" class="B"/><circle cx="831" cy="362" class="B"/><circle cx="844" cy="361" class="T"/><circle cx="838" cy="366" class="g"/><circle cx="839" cy="373" class="B"/><circle cx="836" cy="378" class="B"/><circle cx="835" cy="383" class="P"/><circle cx="841" cy="389" class="R"/><circle cx="836" cy="396" class="A"/>
</g>
<g id="b-leaves-bottomleft">
<circle cx="918" cy="634" class="R"/><circle cx="924" cy="628" class="L"/><circle cx="930" cy="635" class="O"/><circle cx="928" cy="641" class="B"/><circle cx="925" cy="650" class="P"/><circle cx="937" cy="646" class="P"/><circle cx="967" cy="651" class="R"/><circle cx="961" cy="657" class="V"/><circle cx="955" cy="664" class="P"/><circle cx="960" cy="671" class="B"/><circle cx="981" cy="666" class="R"/><circle cx="989" cy="667" class="B"/><circle cx="976" cy="675" class="g"/><circle cx="1003" cy="674" class="A"/><circle cx="1003" cy="679" class="P"/><circle cx="1002" cy="682" class="R"/><circle cx="1010" cy="683" class="B"/><circle cx="962" cy="683" class="B"/><circle cx="960" cy="690" class="P"/><circle cx="972" cy="692" class="g"/><circle cx="978" cy="696" class="P"/><circle cx="988" cy="696" class="P"/><circle cx="967" cy="700" class="g"/><circle cx="999" cy="708" class="R"/><circle cx="1012" cy="707" class="P"/><circle cx="1019" cy="707" class="B"/><circle cx="1002" cy="715" class="B"/><circle cx="1014" cy="715" class="X"/><circle cx="1030" cy="714" class="L"/><circle cx="1025" cy="718" class="B"/><circle cx="1021" cy="728" class="P"/><circle cx="1040" cy="725" class="P"/><circle cx="1052" cy="708" class="P"/><circle cx="1045" cy="715" class="X"/><circle cx="1056" cy="721" class="P"/><circle cx="1065" cy="721" class="R"/><circle cx="1041" cy="733" class="B"/><circle cx="1046" cy="737" class="B"/><circle cx="1056" cy="737" class="V"/><circle cx="1077" cy="734" class="X"/><circle cx="1081" cy="732" class="B"/><circle cx="1091" cy="732" class="B"/><circle cx="1087" cy="750" class="P"/><circle cx="1075" cy="748" class="B"/><circle cx="1096" cy="744" class="R"/><circle cx="1104" cy="745" class="P"/>
</g>
<g id="b-leaves-bottomright">
<circle cx="1531" cy="516" class="V"/><circle cx="1537" cy="522" class="R"/><circle cx="1543" cy="520" class="A"/><circle cx="1542" cy="526" class="P"/><circle cx="1527" cy="529" class="g"/><circle cx="1516" cy="540" class="B"/><circle cx="1531" cy="540" class="R"/><circle cx="1522" cy="548" class="B"/><circle cx="1516" cy="553" class="B"/><circle cx="1512" cy="566" class="P"/><circle cx="1507" cy="568" class="P"/><circle cx="1517" cy="572" class="A"/><circle cx="1505" cy="582" class="g"/><circle cx="1509" cy="589" class="P"/><circle cx="1501" cy="593" class="A"/><circle cx="1485" cy="599" class="O"/><circle cx="1480" cy="607" class="P"/><circle cx="1473" cy="609" class="L"/><circle cx="1495" cy="612" class="R"/><circle cx="1438" cy="617" class="V"/><circle cx="1460" cy="617" class="V"/><circle cx="1473" cy="620" class="P"/><circle cx="1470" cy="630" class="R"/><circle cx="1468" cy="638" class="B"/><circle cx="1458" cy="641" class="P"/><circle cx="1460" cy="648" class="R"/><circle cx="1436" cy="638" class="B"/><circle cx="1438" cy="644" class="T"/><circle cx="1446" cy="644" class="L"/><circle cx="1426" cy="652" class="B"/><circle cx="1441" cy="652" class="L"/><circle cx="1453" cy="653" class="g"/><circle cx="1431" cy="661" class="B"/><circle cx="1453" cy="661" class="B"/><circle cx="1406" cy="672" class="A"/><circle cx="1415" cy="668" class="P"/><circle cx="1438" cy="672" class="B"/><circle cx="1428" cy="675" class="g"/><circle cx="1394" cy="646" class="B"/><circle cx="1385" cy="661" class="A"/><circle cx="1397" cy="655" class="g"/><circle cx="1383" cy="677" class="V"/><circle cx="1382" cy="685" class="L"/><circle cx="1396" cy="685" class="P"/><circle cx="1401" cy="679" class="P"/><circle cx="1384" cy="693" class="P"/><circle cx="1364" cy="682" class="P"/><circle cx="1354" cy="679" class="g"/><circle cx="1347" cy="692" class="R"/><circle cx="1342" cy="686" class="g"/><circle cx="1342" cy="705" class="P"/><circle cx="1354" cy="701" class="B"/><circle cx="1359" cy="704" class="R"/><circle cx="1362" cy="711" class="g"/><circle cx="1341" cy="699" class="A"/>
</g>
<g id="b-leaves-shared">
<use href="#t" x="957" y="247" class="V"/><use href="#t" x="952" y="255" class="g"/><use href="#t" x="962" y="251" class="L"/><use href="#t" x="972" y="251" class="g"/><use href="#t" x="965" y="256" class="T"/><use href="#t" x="946" y="262" class="B"/><use href="#t" x="951" y="270" class="A"/><use href="#t" x="943" y="274" class="P"/><use href="#t" x="957" y="272" class="R"/><use href="#t" x="967" y="273" class="L"/><use href="#t" x="948" y="278" class="T"/><use href="#t" x="955" y="282" class="R"/><use href="#t" x="945" y="287" class="g"/><use href="#t" x="957" y="289" class="B"/><use href="#t" x="951" y="293" class="B"/><use href="#t" x="940" y="302" class="B"/><use href="#t" x="953" y="300" class="A"/><use href="#t" x="940" y="306" class="R"/><use href="#t" x="1019" y="251" class="T"/><use href="#t" x="1035" y="249" class="A"/><use href="#t" x="1014" y="261" class="P"/><use href="#t" x="1012" y="269" class="g"/><use href="#t" x="1022" y="267" class="g"/><use href="#t" x="1015" y="271" class="B"/><use href="#t" x="1009" y="274" class="R"/><use href="#t" x="1017" y="278" class="B"/><use href="#t" x="1015" y="285" class="B"/><use href="#t" x="1004" y="291" class="B"/><use href="#t" x="1014" y="291" class="T"/><use href="#t" x="1026" y="291" class="T"/>
<use href="#t" x="1218" y="185" class="V"/><use href="#t" x="1243" y="186" class="L"/><use href="#t" x="1201" y="195" class="L"/><use href="#t" x="1220" y="197" class="L"/><use href="#t" x="1237" y="195" class="P"/><use href="#t" x="1261" y="198" class="R"/><use href="#t" x="1189" y="203" class="A"/><use href="#t" x="1203" y="206" class="X"/><use href="#t" x="1251" y="206" class="P"/><use href="#t" x="1269" y="208" class="L"/><use href="#t" x="1194" y="210" class="R"/><use href="#t" x="1214" y="211" class="g"/><use href="#t" x="1238" y="209" class="B"/><use href="#t" x="1290" y="211" class="X"/><use href="#t" x="1184" y="213" class="L"/><use href="#t" x="1208" y="216" class="B"/><use href="#t" x="1226" y="218" class="B"/><use href="#t" x="1244" y="216" class="B"/><use href="#t" x="1261" y="219" class="R"/><use href="#t" x="1271" y="220" class="g"/><use href="#t" x="1284" y="218" class="B"/><use href="#t" x="1187" y="220" class="V"/><use href="#t" x="1195" y="227" class="P"/><use href="#t" x="1233" y="228" class="R"/><use href="#t" x="1242" y="222" class="B"/><use href="#t" x="1279" y="228" class="P"/>
<use href="#t" x="1248" y="302" class="V"/><use href="#t" x="1266" y="298" class="V"/><use href="#t" x="1277" y="300" class="R"/><use href="#t" x="1287" y="303" class="A"/><use href="#t" x="1256" y="307" class="L"/><use href="#t" x="1273" y="307" class="B"/>
<use href="#S" x="1142" y="287" class="B"/><use href="#s" x="1145" y="292" class="R"/><use href="#S" x="1150" y="300" class="L"/><use href="#S" x="1125" y="310" class="A"/><use href="#S" x="1147" y="310" class="B"/><use href="#S" x="1135" y="307" class="P"/><use href="#s" x="1140" y="316" class="O"/>
<use href="#d" x="1183" y="336" class="B"/><use href="#d" x="1187" y="343" class="L"/><use href="#d" x="1177" y="350" class="B"/><use href="#d" x="1189" y="351" class="N"/><use href="#d" x="1189" y="356" class="A"/>
<use href="#t" x="1251" y="358" class="R"/><use href="#t" x="1309" y="355" class="T"/>
<use href="#s" x="1103" y="368" class="P"/><use href="#s" x="1110" y="372" class="L"/><use href="#s" x="1105" y="383" class="A"/><use href="#s" x="1100" y="375" class="B"/><use href="#s" x="1115" y="369" class="P"/><use href="#d" x="1118" y="378" class="R"/><use href="#s" x="1113" y="389" class="g"/>
<use href="#S" x="1142" y="369" class="A"/><use href="#S" x="1157" y="372" class="A"/><use href="#s" x="1156" y="379" class="g"/><use href="#s" x="1140" y="378" class="X"/><use href="#s" x="1149" y="380" class="R"/><use href="#S" x="1162" y="383" class="A"/><use href="#s" x="1142" y="386" class="g"/><use href="#S" x="1152" y="390" class="A"/><use href="#s" x="1146" y="396" class="T"/><use href="#S" x="1167" y="390" class="P"/><use href="#s" x="1174" y="393" class="L"/><use href="#S" x="1167" y="398" class="A"/><use href="#S" x="1162" y="407" class="B"/><use href="#S" x="1184" y="401" class="A"/><use href="#S" x="1194" y="407" class="B"/><use href="#s" x="1197" y="412" class="B"/><use href="#S" x="1177" y="409" class="P"/><use href="#s" x="1146" y="412" class="P"/><use href="#S" x="1095" y="412" class="L"/><use href="#s" x="1174" y="412" class="A"/>
<use href="#s" x="1105" y="419" class="X"/><use href="#S" x="1108" y="428" class="B"/><use href="#d" x="1118" y="436" class="V"/><use href="#S" x="1068" y="436" class="B"/><use href="#s" x="1066" y="438" class="O"/><use href="#s" x="1073" y="437" class="A"/><use href="#s" x="1088" y="437" class="P"/><use href="#S" x="1096" y="440" class="A"/><use href="#s" x="1093" y="447" class="B"/><use href="#S" x="1110" y="451" class="L"/><use href="#s" x="1103" y="444" class="P"/><use href="#s" x="1106" y="456" class="B"/><use href="#S" x="1115" y="456" class="A"/><use href="#s" x="1123" y="471" class="L"/><use href="#s" x="1142" y="473" class="L"/><use href="#S" x="1130" y="464" class="A"/><use href="#S" x="1150" y="427" class="A"/><use href="#s" x="1154" y="427" class="V"/><use href="#S" x="1160" y="437" class="A"/><use href="#S" x="1147" y="442" class="B"/><use href="#S" x="1160" y="445" class="A"/><use href="#S" x="1169" y="452" class="A"/><use href="#s" x="1164" y="437" class="B"/><use href="#S" x="1180" y="419" class="B"/><use href="#s" x="1181" y="426" class="P"/><use href="#S" x="1174" y="431" class="A"/><use href="#s" x="1184" y="434" class="T"/><use href="#S" x="1187" y="440" class="B"/><use href="#s" x="1192" y="448" class="B"/><use href="#s" x="1189" y="451" class="T"/><use href="#S" x="1194" y="456" class="A"/><use href="#s" x="1206" y="448" class="R"/><use href="#s" x="1201" y="433" class="P"/><use href="#d" x="1216" y="420" class="B"/><use href="#d" x="1214" y="436" class="B"/><use href="#s" x="1220" y="435" class="P"/><use href="#s" x="1231" y="438" class="A"/><use href="#d" x="1229" y="434" class="V"/><use href="#d" x="1231" y="430" class="B"/><use href="#S" x="1147" y="456" class="A"/><use href="#S" x="1149" y="462" class="B"/><use href="#s" x="1162" y="459" class="T"/><use href="#s" x="1163" y="467" class="O"/><use href="#S" x="1132" y="453" class="A"/><use href="#s" x="1140" y="449" class="B"/><use href="#s" x="1179" y="459" class="g"/>
<use href="#s" x="1119" y="482" class="B"/><use href="#S" x="1095" y="489" class="P"/><use href="#s" x="1103" y="489" class="L"/><use href="#d" x="1110" y="492" class="V"/><use href="#S" x="1123" y="498" class="R"/><use href="#s" x="1105" y="500" class="A"/><use href="#S" x="1115" y="500" class="P"/><use href="#s" x="1093" y="499" class="B"/><use href="#S" x="1125" y="507" class="P"/><use href="#S" x="1098" y="511" class="R"/><use href="#s" x="1105" y="514" class="R"/><use href="#s" x="1115" y="513" class="B"/><use href="#s" x="1120" y="520" class="T"/><use href="#s" x="1110" y="506" class="P"/>
<use href="#t" x="1002" y="430" class="P"/><use href="#s" x="1017" y="425" class="V"/><use href="#s" x="1026" y="425" class="A"/><use href="#t" x="1007" y="458" class="B"/><use href="#t" x="1021" y="451" class="g"/><use href="#t" x="1017" y="463" class="B"/><use href="#t" x="1038" y="473" class="B"/><use href="#t" x="956" y="467" class="A"/><use href="#t" x="989" y="473" class="B"/><use href="#t" x="998" y="478" class="B"/><use href="#t" x="960" y="486" class="P"/><use href="#t" x="968" y="486" class="R"/><use href="#t" x="1007" y="482" class="O"/><use href="#t" x="1022" y="486" class="P"/><use href="#t" x="1014" y="498" class="g"/><use href="#t" x="1036" y="495" class="T"/><use href="#t" x="1015" y="507" class="B"/><use href="#t" x="1027" y="507" class="P"/><use href="#t" x="1002" y="500" class="g"/><use href="#t" x="972" y="506" class="T"/><use href="#t" x="973" y="515" class="g"/><use href="#t" x="994" y="521" class="T"/><use href="#t" x="1002" y="529" class="V"/>
<use href="#t" x="867" y="491" class="L"/><use href="#t" x="864" y="500" class="R"/><use href="#t" x="872" y="498" class="P"/><use href="#t" x="868" y="503" class="B"/><use href="#t" x="864" y="507" class="g"/><use href="#t" x="878" y="502" class="P"/><use href="#t" x="884" y="513" class="B"/><use href="#t" x="859" y="514" class="g"/><use href="#t" x="861" y="521" class="B"/><use href="#t" x="873" y="521" class="g"/><use href="#t" x="878" y="528" class="T"/><use href="#t" x="868" y="536" class="P"/><use href="#t" x="868" y="542" class="R"/><use href="#t" x="883" y="542" class="g"/><use href="#t" x="891" y="542" class="g"/><use href="#t" x="879" y="550" class="L"/><use href="#t" x="883" y="555" class="P"/>
<use href="#t" x="1379" y="387" class="A"/><use href="#t" x="1402" y="391" class="g"/><use href="#t" x="1414" y="390" class="P"/><use href="#t" x="1409" y="397" class="P"/><use href="#t" x="1420" y="404" class="L"/><use href="#t" x="1412" y="408" class="X"/><use href="#t" x="1401" y="415" class="A"/><use href="#t" x="1405" y="420" class="T"/><use href="#t" x="1392" y="425" class="B"/><use href="#t" x="1416" y="426" class="R"/><use href="#t" x="1423" y="422" class="L"/><use href="#t" x="1399" y="439" class="P"/><use href="#t" x="1422" y="440" class="A"/><use href="#t" x="1411" y="442" class="g"/><use href="#t" x="1384" y="456" class="V"/><use href="#t" x="1395" y="458" class="T"/><use href="#t" x="1389" y="462" class="B"/><use href="#t" x="1421" y="455" class="B"/><use href="#t" x="1381" y="474" class="P"/><use href="#t" x="1385" y="477" class="g"/><use href="#t" x="1407" y="471" class="R"/><use href="#t" x="1412" y="477" class="V"/><use href="#t" x="1354" y="473" class="B"/><use href="#t" x="1391" y="481" class="P"/><use href="#t" x="1401" y="480" class="P"/><use href="#t" x="1386" y="495" class="L"/><use href="#t" x="1378" y="498" class="R"/><use href="#t" x="1404" y="489" class="V"/><use href="#t" x="1411" y="488" class="P"/>
<use href="#t" x="1340" y="485" class="L"/><use href="#t" x="1347" y="489" class="L"/><use href="#t" x="1343" y="500" class="P"/><use href="#t" x="1336" y="503" class="B"/><use href="#t" x="1348" y="502" class="P"/><use href="#t" x="1317" y="511" class="g"/><use href="#t" x="1309" y="514" class="B"/><use href="#t" x="1327" y="514" class="R"/><use href="#t" x="1342" y="514" class="g"/><use href="#t" x="1293" y="521" class="T"/><use href="#t" x="1300" y="526" class="R"/><circle cx="1312" cy="525" class="B"/><use href="#t" x="1311" y="535" class="A"/>
<use href="#S" x="1253" y="558" class="B"/><use href="#s" x="1261" y="557" class="T"/><use href="#s" x="1256" y="565" class="A"/><use href="#s" x="1262" y="572" class="V"/><use href="#s" x="1267" y="579" class="B"/><use href="#s" x="1261" y="587" class="O"/>
<use href="#t" x="1048" y="559" class="O"/><use href="#t" x="1152" y="558" class="P"/><use href="#t" x="1098" y="566" class="A"/><use href="#t" x="1111" y="573" class="B"/><use href="#t" x="1123" y="573" class="P"/><use href="#t" x="1118" y="580" class="V"/><use href="#t" x="1108" y="590" class="P"/><use href="#t" x="1126" y="597" class="B"/><use href="#t" x="1137" y="597" class="B"/><use href="#t" x="1137" y="604" class="P"/><use href="#t" x="1146" y="597" class="O"/><use href="#t" x="1150" y="595" class="B"/><use href="#t" x="1161" y="593" class="P"/><use href="#t" x="1172" y="595" class="P"/><use href="#t" x="1155" y="604" class="P"/><use href="#t" x="1168" y="610" class="A"/><use href="#t" x="1163" y="602" class="g"/>
<use href="#t" x="1113" y="674" class="g"/><use href="#t" x="1124" y="682" class="P"/><use href="#t" x="1131" y="681" class="B"/><use href="#t" x="1137" y="670" class="B"/><use href="#t" x="1140" y="675" class="P"/><use href="#t" x="1151" y="672" class="P"/><use href="#t" x="1161" y="677" class="B"/><use href="#t" x="1145" y="682" class="B"/><use href="#t" x="1116" y="685" class="g"/><use href="#t" x="1124" y="696" class="R"/><use href="#t" x="1144" y="693" class="B"/><use href="#t" x="1161" y="692" class="R"/><use href="#t" x="1142" y="701" class="B"/><use href="#t" x="1152" y="683" class="V"/><use href="#t" x="1177" y="689" class="g"/><use href="#t" x="1177" y="696" class="L"/><use href="#t" x="1160" y="685" class="P"/>
<circle cx="1286" cy="440" class="R"/><circle cx="1317" cy="564" class="R"/><circle cx="1200" cy="525" class="B"/><use href="#t" x="1168" y="482" class="g"/><use href="#s" x="1187" y="499" class="g"/><use href="#t" x="1184" y="511" class="B"/>
</g>

<g id="a-ipm-crop-row"><rect x="170" y="408" width="25" height="25" fill="#521b30"/></g>
<g id="a-ipm-drive-row"><rect x="371" y="450" width="25" height="25" fill="#a03b62"/></g>
<g id="a-organic-crop-row"><rect x="488" y="334" width="25" height="25" fill="#0e4752"/></g>
<g id="a-organic-drive-row"><rect x="489" y="250" width="25" height="25" fill="#2c8aa0"/></g>
<g id="a-semi-natural-grassland"><rect x="307" y="241" width="25" height="25" fill="#a09a4c"/></g>
<g id="b-ipm-crop-row"><rect x="1003" y="347" width="26" height="26" fill="#521b30"/></g>
<g id="b-ipm-drive-row"><rect x="1075" y="543" width="26" height="26" fill="#a03b62"/></g>
<g id="b-organic-crop-row"><rect x="1295" y="305" width="26" height="26" fill="#0e4752"/></g>
<g id="b-organic-drive-row"><rect x="1201" y="276" width="26" height="26" fill="#2c8aa0"/></g>
<g id="b-semi-natural-grassland"><rect x="1297" y="461" width="26" height="26" fill="#a09a4c"/></g>

<g id="legend-habitat">
<rect x="40" y="645" width="25" height="25" fill="#521b30"/><text x="88" y="666">IPM crop row</text>
<rect x="40" y="687" width="25" height="25" fill="#a03b62"/><text x="88" y="708">IPM drive row</text>
<rect x="311" y="645" width="25" height="25" fill="#0e4752"/><text x="358" y="666">Organic crop row</text>
<rect x="311" y="687" width="25" height="25" fill="#2c8aa0"/><text x="358" y="708">Organic drive row</text>
<rect x="574" y="687" width="25" height="25" fill="#a09a4c"/><text x="614" y="708">Semi-natural grassland</text>
</g>
<g id="legend-fungi">
<rect x="41" y="774" width="27" height="21.5" fill="#e41a1c"/><text x="81" y="793">Ascomycota</text>
<rect x="41" y="812" width="27" height="21.5" fill="#377eb8"/><text x="81" y="831">Basidiomycota</text>
<rect x="41" y="850" width="27" height="21.5" fill="#4daf4a"/><text x="81" y="869.5">Glomeromycota</text>
<rect x="41" y="889" width="27" height="21.5" fill="#984ea3"/><text x="81" y="908.5">Mortierellomycota</text>
<rect x="318" y="774" width="27" height="21.5" fill="#ff7f00"/><text x="358" y="793">Basidiobolomycota</text>
<rect x="318" y="812" width="27" height="21.5" fill="#ffff33"/><text x="358" y="831">Chitridiomycota</text>
<rect x="318" y="850" width="27" height="21.5" fill="#a65628"/><text x="358" y="869.5">Mucoromycota</text>
<rect x="318" y="889" width="27" height="21.5" fill="#f781bf"/><text x="358" y="908.5">Entorrhizomycota</text>
<rect x="318" y="928" width="27" height="21.5" fill="#a4b1bb"/><text x="358" y="947">Unknown or other</text>
</g>
<g id="legend-bacteria">
<rect x="763" y="772.5" width="28" height="21" fill="#a6cee3"/><text x="803" y="791.6">Acidobacteria</text>
<rect x="763" y="810.5" width="28" height="21" fill="#1f78b4"/><text x="803" y="829.6">Proteobacteria</text>
<rect x="763" y="848.5" width="28" height="21" fill="#fdbf6f"/><text x="803" y="867.6">Bacteroidetes</text>
<rect x="763" y="887.5" width="28" height="21" fill="#ff7f00"/><text x="805" y="906.6">Gemmatimonadetes</text>
<rect x="1053" y="772.5" width="28" height="21" fill="#b2df8a"/><text x="1093" y="791.6">Actinobacteria</text>
<rect x="1053" y="810.5" width="28" height="21" fill="#33a02c"/><text x="1093" y="829.6">Planctomycetes</text>
<rect x="1053" y="848.5" width="28" height="21" fill="#cab2d6"/><text x="1093" y="867.6">Latescibacteria</text>
<rect x="1053" y="887.5" width="28" height="21" fill="#6a3d9a"/><text x="1093" y="906.6">Nitrospirae</text>
<rect x="1328" y="767" width="28" height="21" fill="#fb9a99"/><text x="1367" y="786">Verrucomicrobia</text>
<rect x="1328" y="810.5" width="28" height="21" fill="#e31a1c"/><text x="1367" y="829.6">Chloroflexi</text>
<rect x="1328" y="849.5" width="28" height="21" fill="#a4b1bb"/><text x="1367" y="868.6">Unknown or other</text>
</g>
</g>
</svg>
